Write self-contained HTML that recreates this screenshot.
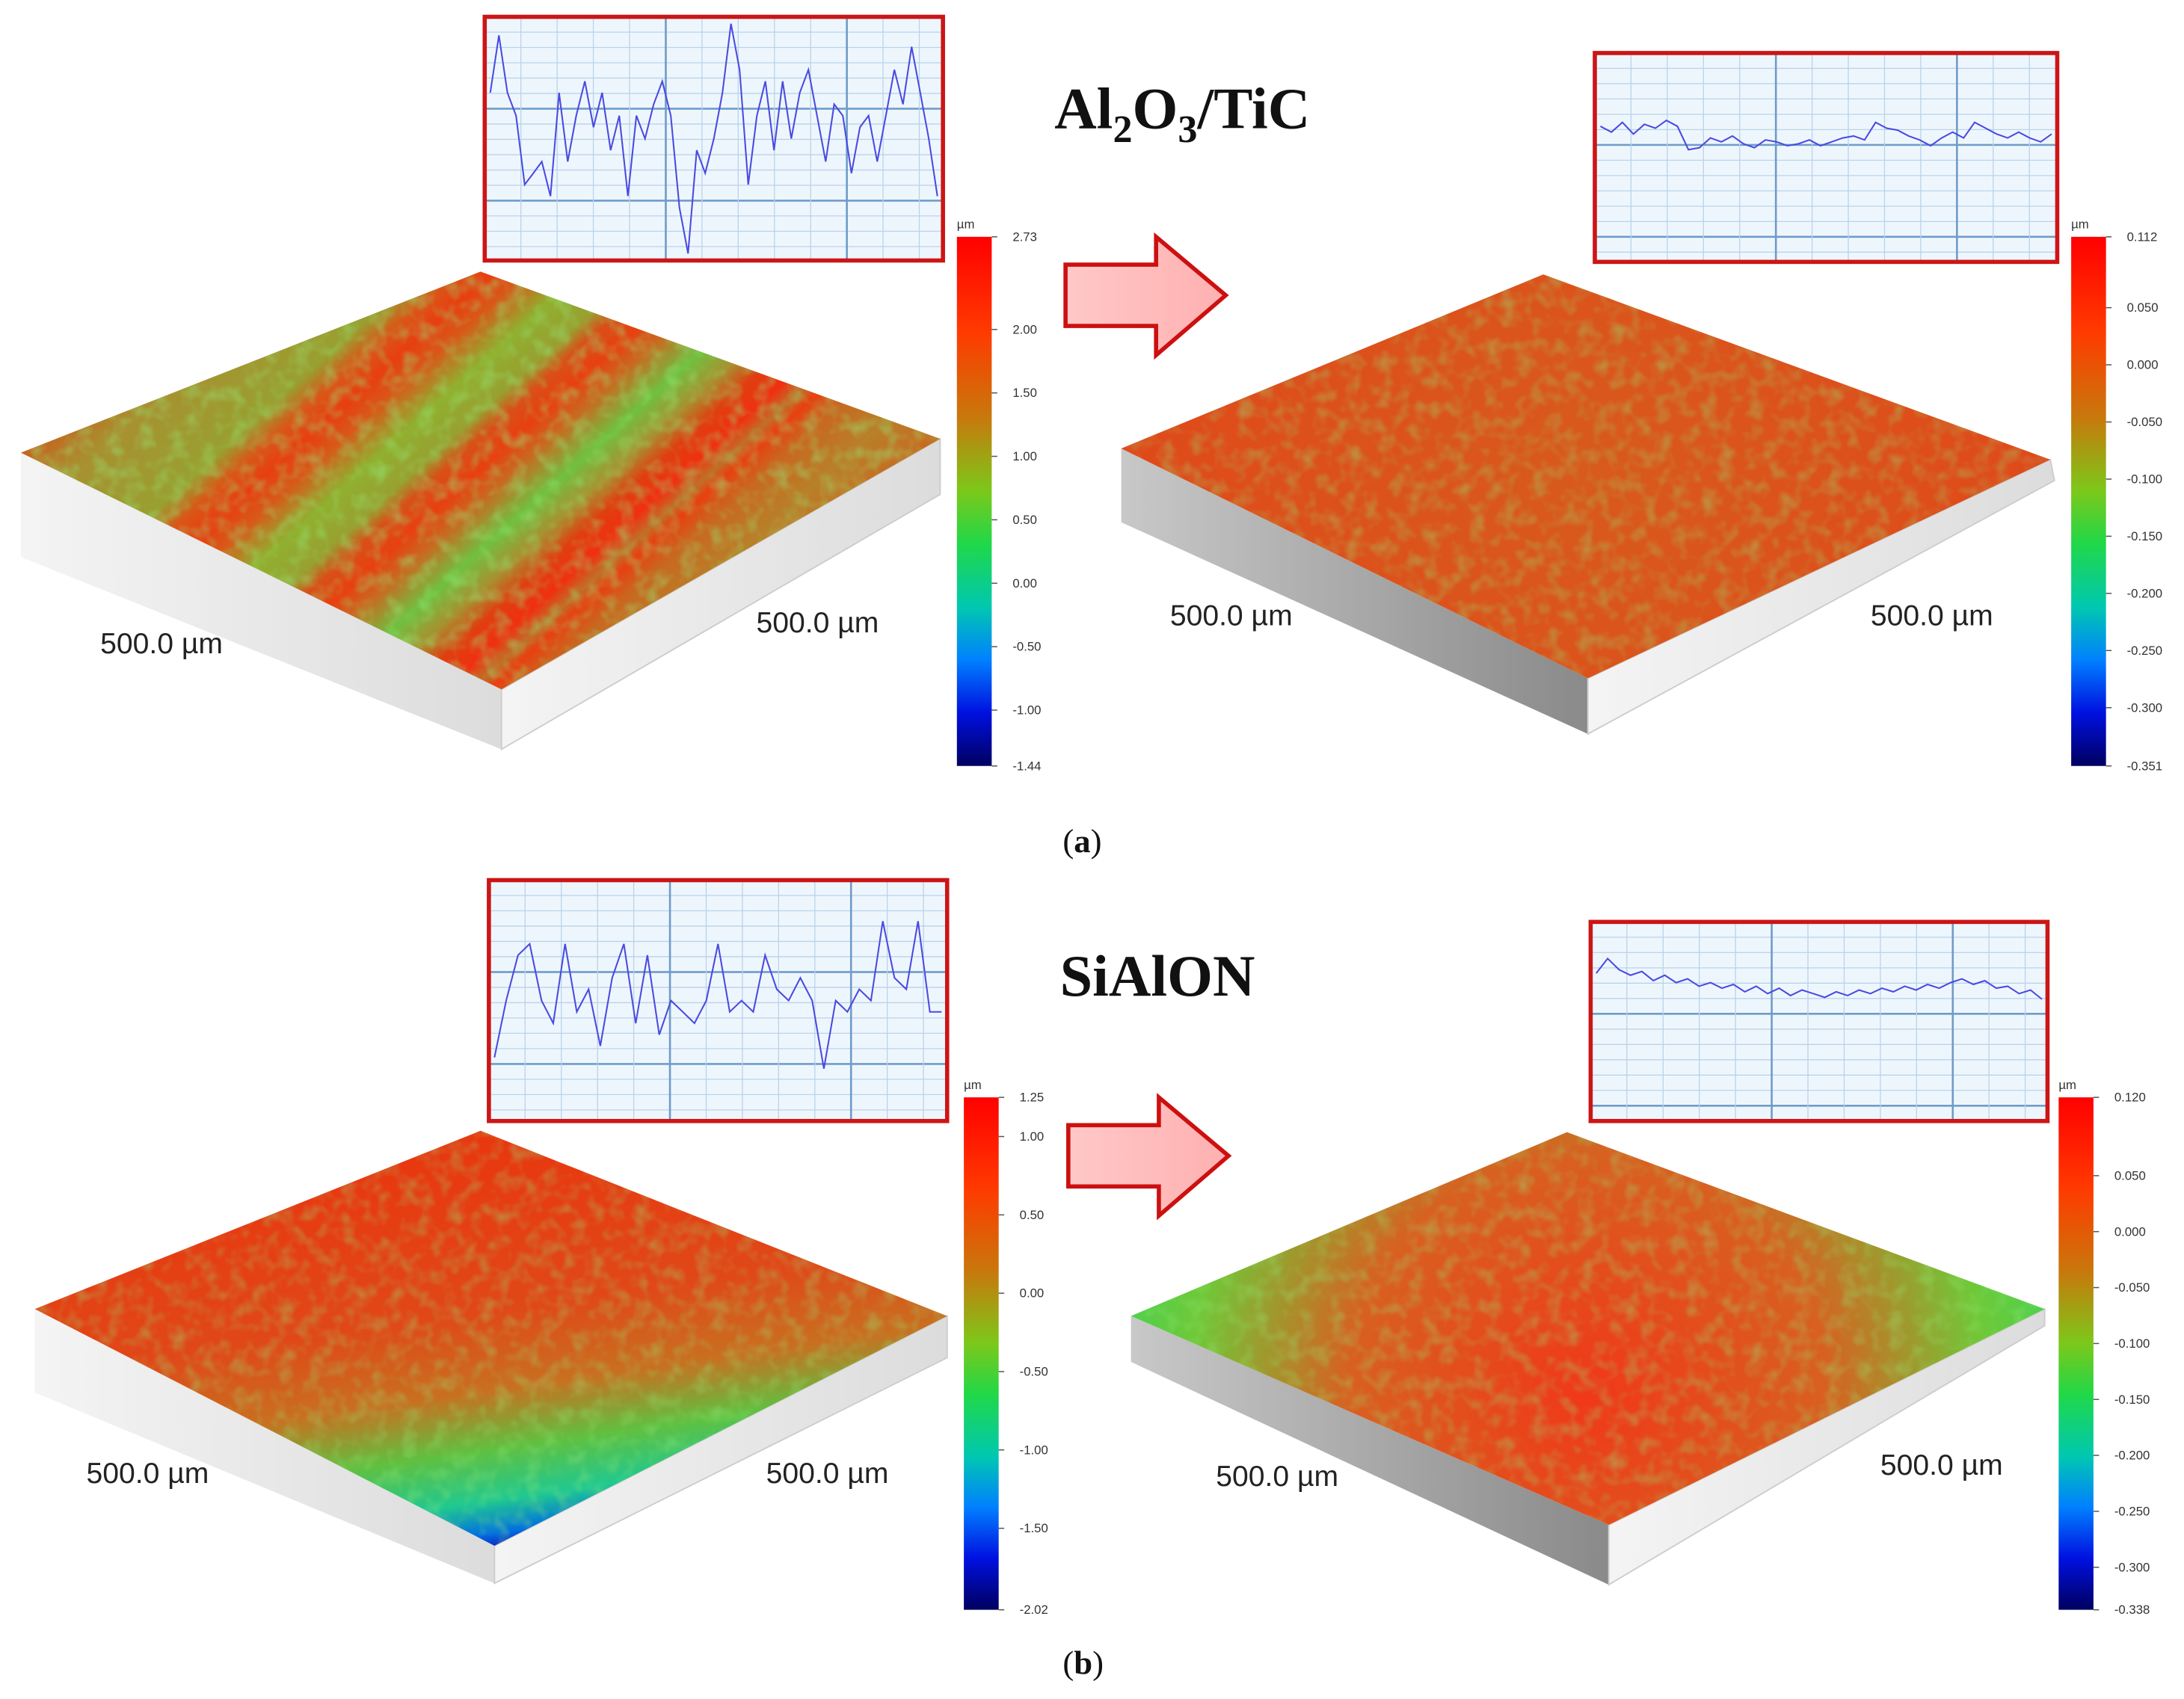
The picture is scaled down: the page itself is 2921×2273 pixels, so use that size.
<!DOCTYPE html>
<html><head><meta charset="utf-8"><style>
html,body{margin:0;padding:0;background:#fff}
svg{display:block}
.lbl{font-family:"Liberation Sans",sans-serif;font-size:21px;fill:#222}
.tick{font-family:"Liberation Sans",sans-serif;font-size:9px;fill:#333}
.ttl{font-family:"Liberation Serif",serif;font-weight:bold;fill:#111}
.cap{font-family:"Liberation Serif",serif;font-size:24px;fill:#111}
</style></head><body>
<svg id="fig" width="2921" height="2273" viewBox="0 0 1568 1220" xmlns="http://www.w3.org/2000/svg">
<defs>
<linearGradient id="cmap" x1="0" y1="0" x2="0" y2="1">
<stop offset="0" stop-color="#ff0000"/><stop offset="0.18" stop-color="#ff3a00"/><stop offset="0.34" stop-color="#c8780c"/><stop offset="0.48" stop-color="#7cc81a"/><stop offset="0.58" stop-color="#20d848"/><stop offset="0.7" stop-color="#00c8b0"/><stop offset="0.8" stop-color="#0080ff"/><stop offset="0.9" stop-color="#0010e0"/><stop offset="1" stop-color="#000060"/>
</linearGradient>
<linearGradient id="gA1" gradientUnits="userSpaceOnUse" x1="15" y1="325" x2="306" y2="647">
<stop offset="0" stop-color="#c8601c"/><stop offset="0.08" stop-color="#a89030"/><stop offset="0.22" stop-color="#98a030"/><stop offset="0.26" stop-color="#d85818"/><stop offset="0.3" stop-color="#e83e10"/><stop offset="0.34" stop-color="#d85818"/><stop offset="0.4" stop-color="#90b030"/><stop offset="0.46" stop-color="#98a030"/><stop offset="0.49" stop-color="#d85018"/><stop offset="0.53" stop-color="#e84010"/><stop offset="0.57" stop-color="#c86a20"/><stop offset="0.63" stop-color="#70c040"/><stop offset="0.68" stop-color="#a89030"/><stop offset="0.72" stop-color="#e03e10"/><stop offset="0.76" stop-color="#f03010"/><stop offset="0.79" stop-color="#c07028"/><stop offset="0.81" stop-color="#e84010"/><stop offset="0.85" stop-color="#c86820"/><stop offset="0.92" stop-color="#b88028"/><stop offset="1" stop-color="#c86a20"/>
</linearGradient>
<radialGradient id="gA2" gradientUnits="userSpaceOnUse" cx="1140" cy="340" r="360">
<stop offset="0" stop-color="#d85a1c"/><stop offset="1" stop-color="#e0481a"/>
</radialGradient>
<linearGradient id="gB1" gradientUnits="userSpaceOnUse" x1="330" y1="830" x2="370" y2="1110">
<stop offset="0" stop-color="#e83810"/><stop offset="0.4" stop-color="#e04818"/><stop offset="0.6" stop-color="#c87020"/><stop offset="0.75" stop-color="#60c040"/><stop offset="0.88" stop-color="#20c890"/><stop offset="0.96" stop-color="#0070e0"/><stop offset="1" stop-color="#1020c0"/>
</linearGradient>
<radialGradient id="gB2" gradientUnits="userSpaceOnUse" cx="1140" cy="1000" r="380">
<stop offset="0" stop-color="#f03818"/><stop offset="0.45" stop-color="#d86020"/><stop offset="0.75" stop-color="#70c838"/><stop offset="1" stop-color="#30d860"/>
</radialGradient>
<linearGradient id="sideL" x1="0" y1="0" x2="1" y2="0"><stop offset="0" stop-color="#c8c8c8"/><stop offset="1" stop-color="#8a8a8a"/></linearGradient>
<linearGradient id="sideW" x1="0" y1="0" x2="1" y2="0"><stop offset="0" stop-color="#f4f4f4"/><stop offset="1" stop-color="#dcdcdc"/></linearGradient>
<filter id="noise" x="0" y="0" width="100%" height="100%">
<feTurbulence type="fractalNoise" baseFrequency="0.09" numOctaves="2" seed="3"/>
<feColorMatrix values="0 0 0 0 0.3  0 0 0 0 0.85  0 0 0 0 0.2  0 0 0 -2.2 1.25"/>
<feComposite in2="SourceGraphic" operator="in"/>
</filter>
<linearGradient id="arrowG" x1="0" y1="0" x2="1" y2="0"><stop offset="0" stop-color="#ffc8c8"/><stop offset="1" stop-color="#ffb0b0"/></linearGradient>
</defs>

<g id="surfaces"></g>
<g id="profiles"></g>
<g id="bars"></g>

<text class="ttl" x="757" y="92" font-size="42">Al<tspan font-size="28" dy="10">2</tspan><tspan dy="-10">O</tspan><tspan font-size="28" dy="10">3</tspan><tspan dy="-10">/TiC</tspan></text>
<text class="ttl" x="761" y="715" font-size="42">SiAlON</text>

<polygon points="765,190 830,190 830,170 880,212 830,255 830,234 765,234" fill="url(#arrowG)" stroke="#cc1010" stroke-width="3"/>
<polygon points="767,808 832,808 832,788 882,830 832,873 832,852 767,852" fill="url(#arrowG)" stroke="#cc1010" stroke-width="3"/>

<text class="cap" x="763" y="612">(<tspan font-weight="bold">a</tspan>)</text>
<text class="cap" x="763" y="1202">(<tspan font-weight="bold">b</tspan>)</text>

<g id="labels">
<text class="lbl" x="72" y="469">500.0 µm</text>
<text class="lbl" x="543" y="454">500.0 µm</text>
<text class="lbl" x="840" y="449">500.0 µm</text>
<text class="lbl" x="1343" y="449">500.0 µm</text>
<text class="lbl" x="62" y="1065">500.0 µm</text>
<text class="lbl" x="550" y="1065">500.0 µm</text>
<text class="lbl" x="873" y="1067">500.0 µm</text>
<text class="lbl" x="1350" y="1059">500.0 µm</text>
</g>
</svg>
<script>
// ---- data ----
const cbA1Ticks = [2.73, 2.00, 1.50, 1.00, 0.50, 0.00, -0.50, -1.00, -1.44];
const cbA1Labels = ['2.73','2.00','1.50','1.00','0.50','0.00','-0.50','-1.00','-1.44'];
const cbA2Ticks = [0.112, 0.050, 0.000, -0.050, -0.100, -0.150, -0.200, -0.250, -0.300, -0.351];
const cbA2Labels = ['0.112','0.050','0.000','-0.050','-0.100','-0.150','-0.200','-0.250','-0.300','-0.351'];
const cbB1Ticks = [1.25, 1.00, 0.50, 0.00, -0.50, -1.00, -1.50, -2.02];
const cbB1Labels = ['1.25','1.00','0.50','0.00','-0.50','-1.00','-1.50','-2.02'];
const cbB2Ticks = [0.120, 0.050, 0.000, -0.050, -0.100, -0.150, -0.200, -0.250, -0.300, -0.338];
const cbB2Labels = ['0.120','0.050','0.000','-0.050','-0.100','-0.150','-0.200','-0.250','-0.300','-0.338'];
const profA1 = [7,9.5,7,6,3,3.5,4,2.5,7,4,6,7.5,5.5,7,4.5,6,2.5,6,5,6.5,7.5,6,2,0,4.5,3.5,5,7,10,8,3,6,7.5,4.5,7.5,5,7,8,6,4,6.5,6,3.5,5.5,6,4,6,8,6.5,9,7,5,2.5];
const profA2 = [6.6,6.3,6.8,6.2,6.7,6.5,6.9,6.6,5.4,5.5,6.0,5.8,6.1,5.7,5.5,5.9,5.8,5.6,5.7,5.9,5.6,5.8,6.0,6.1,5.9,6.8,6.5,6.4,6.1,5.9,5.6,6.0,6.3,6.0,6.8,6.5,6.2,6.0,6.3,6.0,5.8,6.2];
const profB1 = [2.5,5,7,7.5,5,4,7.5,4.5,5.5,3,6,7.5,4,7,3.5,5,4.5,4,5,7.5,4.5,5,4.5,7,5.5,5,6,5,2,5,4.5,5.5,5,8.5,6,5.5,8.5,4.5,4.5];
const profB2 = [7.6,8.4,7.8,7.5,7.7,7.2,7.5,7.1,7.3,6.9,7.1,6.8,7.0,6.6,6.9,6.5,6.8,6.4,6.7,6.5,6.3,6.6,6.4,6.7,6.5,6.8,6.6,6.9,6.7,7.0,6.8,7.1,7.3,7.0,7.2,6.8,6.9,6.5,6.7,6.2];

const NS = 'http://www.w3.org/2000/svg';
function mk(tag, attrs, parent){const e=document.createElementNS(NS,tag);for(const k in attrs)e.setAttribute(k,attrs[k]);parent.appendChild(e);return e;}

// ---- surfaces ----
const S = document.getElementById('surfaces');
function surface(name, top, left, front, right, baseL, baseF, baseR, fill, noiseOp, leftSide){
  const g = mk('g',{},S);
  
  
  const ls = mk('polygon',{points:[left,front,baseF,baseL].map(p=>p.join(',')).join(' '),fill:leftSide},g);
  
  
  const rs = mk('polygon',{points:[front,right,baseR,baseF].map(p=>p.join(',')).join(' '),fill:'url(#sideW)',stroke:'#ccc','stroke-width':1},g);
  
  
  const pts=[top,left,front,right].map(p=>p.join(',')).join(' ');
  const t = mk('polygon',{points:pts,fill:fill},g);
  
  
  const n = mk('polygon',{points:pts,fill:'#000',filter:'url(#noise)',opacity:noiseOp},g);
  
  
}
surface('surface-a-before',[345,195],[15,325],[360,495],[675,315],[15,400],[360,538],[675,355],'url(#gA1)',0.45,'url(#sideW)');
surface('surface-a-after',[1108,197],[805,322],[1140,487],[1472,330],[805,375],[1140,527],[1475,345],'url(#gA2)',0.35,'url(#sideL)');
surface('surface-b-before',[345,812],[25,940],[355,1110],[680,945],[25,1000],[355,1137],[680,975],'url(#gB1)',0.35,'url(#sideW)');
surface('surface-b-after',[1125,813],[812,945],[1155,1095],[1468,940],[812,978],[1155,1138],[1468,952],'url(#gB2)',0.35,'url(#sideL)');

// ---- profiles ----
const P = document.getElementById('profiles');
function profile(name, x, y, w, h, data){
  const g = mk('g',{},P);
  
  
  mk('rect',{x:x,y:y,width:w,height:h,fill:'#eef6fd'},g);
  for(let i=1;i*11<h;i++){
    mk('line',{x1:x,x2:x+w,y1:y+i*11,y2:y+i*11,stroke:i%6==0?'#6f9cc8':'#b9d3ea','stroke-width':i%6==0?1.4:0.7},g);
  }
  for(let i=1;i*26<w;i++){
    mk('line',{x1:x+i*26,x2:x+i*26,y1:y,y2:y+h,stroke:i%5==0?'#6f9cc8':'#b9d3ea','stroke-width':i%5==0?1.4:0.7},g);
  }
  const xs = i => x+4+i*(w-8)/(data.length-1);
  const ys = v => y+5+(10-v)/10*(h-10);
  const d = data.map((v,i)=>(i?'L':'M')+xs(i).toFixed(1)+','+ys(v).toFixed(1)).join(' ');
  const ln = mk('path',{d:d,fill:'none',stroke:'#4a4ae0','stroke-width':1.1},g);
  
  
  mk('rect',{x:x,y:y,width:w,height:h,fill:'none',stroke:'#cc1515','stroke-width':3},g);
}
profile('profile-a-before',348,12,329,175,profA1);
profile('profile-a-after',1145,38,332,150,profA2);
profile('profile-b-before',351,632,329,173,profB1);
profile('profile-b-after',1142,662,328,143,profB2);

// ---- colorbars ----
const B = document.getElementById('bars');
function colorbar(name, x, y, w, h, ticks, labels){
  const g = mk('g',{},B);
  
  
  mk('rect',{x:x,y:y,width:w,height:h,fill:'url(#cmap)'},g);
  const t = mk('text',{x:x,y:y-6,'class':'tick','font-size':7},g);
  t.textContent='µm';
  const mx=ticks[0], mn=ticks[ticks.length-1];
  const sy = v => y+(mx-v)/(mx-mn)*h;
  ticks.forEach((v,i)=>{
    mk('line',{x1:x+w,x2:x+w+4,y1:sy(v),y2:sy(v),stroke:'#555','stroke-width':0.8},g);
    const tx = mk('text',{x:x+w+15,y:sy(v)+3,'class':'tick'},g);
    
    
    tx.textContent = labels[i];
  });
}
colorbar('colorbar-a-before',687,170,25,380,cbA1Ticks,cbA1Labels);
colorbar('colorbar-a-after',1487,170,25,380,cbA2Ticks,cbA2Labels);
colorbar('colorbar-b-before',692,788,25,368,cbB1Ticks,cbB1Labels);
colorbar('colorbar-b-after',1478,788,25,368,cbB2Ticks,cbB2Labels);
</script>
</body></html>
